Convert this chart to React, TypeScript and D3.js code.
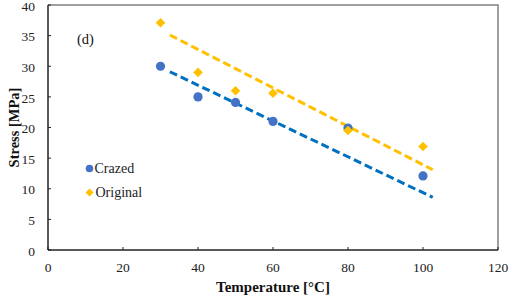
import React from "react";
import * as d3 from "d3";

const crazedX = [30, 40, 50, 60, 80, 100];
const crazedY = [30, 25, 24.1, 21, 19.9, 12.1];
const originalX = [30, 40, 50, 60, 80, 100];
const originalY = [37.1, 29, 26, 25.6, 19.5, 16.9];
const crazedTrendX = [32.5, 102.6];
const crazedTrendY = [29.1, 8.6];
const originalTrendX = [32.5, 102.6];
const originalTrendY = [35.1, 13.1];
const xTicks = [0, 20, 40, 60, 80, 100, 120];
const yTicks = [0, 5, 10, 15, 20, 25, 30, 35, 40];

const W = 509;
const H = 298;
const M = { left: 48, right: 498, top: 5, bottom: 250 };
const FONT = "Liberation Serif, Times New Roman, Tinos, DejaVu Serif, serif";
const BLUE = "#4472C4";
const BLUE_LINE = "#0070C0";
const GOLD = "#FFC000";

function diamond(cx: number, cy: number, r: number) {
  return `M${cx},${cy - r}L${cx + r},${cy}L${cx},${cy + r}L${cx - r},${cy}Z`;
}

export default function App() {
  const x = d3.scaleLinear().domain([0, 120]).range([M.left, M.right]);
  const y = d3.scaleLinear().domain([0, 40]).range([M.bottom, M.top]);
  const line = d3
    .line<[number, number]>()
    .x((d) => x(d[0]))
    .y((d) => y(d[1]));
  const cTrend = crazedTrendX.map((v, i) => [v, crazedTrendY[i]] as [number, number]);
  const oTrend = originalTrendX.map((v, i) => [v, originalTrendY[i]] as [number, number]);
  const txt = { fontFamily: FONT } as React.CSSProperties;

  return (
    <svg
      width={W}
      height={H}
      style={{ position: "absolute", left: 0, top: 0, background: "#fff", fontFamily: FONT }}
    >
      <path
        d={`M${M.left},${M.top}H${M.right}V${M.bottom}`}
        fill="none"
        stroke="#808080"
        strokeWidth={1.5}
      />
      <path d={line(oTrend) || ""} fill="none" stroke={GOLD} strokeWidth={3} strokeDasharray="8,4" />
      <path d={line(cTrend) || ""} fill="none" stroke={BLUE_LINE} strokeWidth={3} strokeDasharray="8,4" />
      {crazedX.map((v, i) => (
        <circle key={"c" + i} cx={x(v)} cy={y(crazedY[i])} r={4.6} fill={BLUE} />
      ))}
      {originalX.map((v, i) => (
        <path key={"o" + i} d={diamond(x(v), y(originalY[i]), 4.8)} fill={GOLD} />
      ))}
      <line x1={M.left} x2={M.left} y1={M.top} y2={M.bottom} stroke="#222" strokeWidth={1.5} />
      <line x1={M.left} x2={M.right} y1={M.bottom} y2={M.bottom} stroke="#222" strokeWidth={1.5} />
      {yTicks.map((t) => (
        <g key={"y" + t}>
          <line x1={M.left} x2={M.left + 3} y1={y(t)} y2={y(t)} stroke="#222" strokeWidth={1} />
          <text x={35} y={y(t) + 1} dy="0.35em" textAnchor="end" style={txt} fontSize={13.5} fill="#222">
            {t}
          </text>
        </g>
      ))}
      {xTicks.map((t) => (
        <g key={"x" + t}>
          <line x1={x(t)} x2={x(t)} y1={M.bottom} y2={M.bottom - 3} stroke="#222" strokeWidth={1} />
          <text x={x(t)} y={272} textAnchor="middle" style={txt} fontSize={13.5} fill="#222">
            {t}
          </text>
        </g>
      ))}
      <text
        x={(M.left + M.right) / 2}
        y={292}
        textAnchor="middle"
        style={txt}
        fontSize={15}
        fontWeight="bold"
        fill="#111"
      >
        Temperature [°C]
      </text>
      <text
        transform={`translate(19,${(M.top + M.bottom) / 2}) rotate(-90)`}
        textAnchor="middle"
        style={txt}
        fontSize={14.5}
        fontWeight="bold"
        fill="#111"
      >
        Stress [MPa]
      </text>
      <text x={77} y={44} style={txt} fontSize={14.5} fill="#111">
        (d)
      </text>
      <circle cx={89.5} cy={168.5} r={3.8} fill={BLUE} />
      <text x={94.5} y={168.5} dy="0.35em" style={txt} fontSize={14} fill="#222">
        Crazed
      </text>
      <path d={diamond(89.5, 192.5, 4)} fill={GOLD} />
      <text x={95.5} y={192.5} dy="0.35em" style={txt} fontSize={14} fill="#222">
        Original
      </text>
    </svg>
  );
}
